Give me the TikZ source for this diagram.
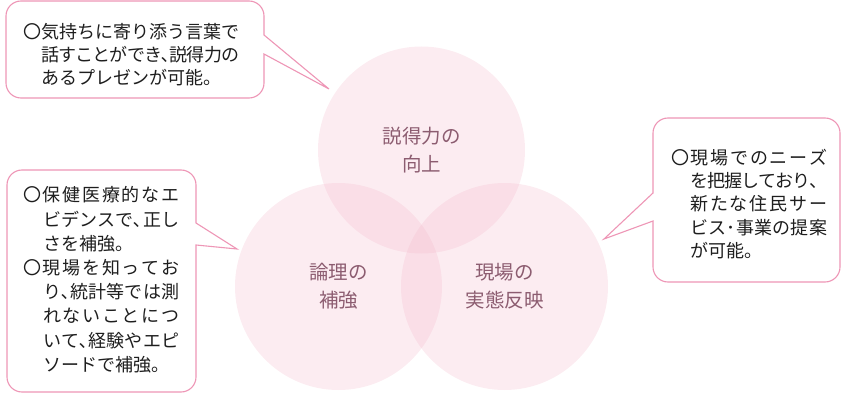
\documentclass[tikz,border=0pt]{standalone}
\usepackage{fontspec}
\setmainfont{Noto Sans CJK JP}
\definecolor{lineC}{RGB}{238,150,182}
\definecolor{circC}{RGB}{243,182,201}
\definecolor{labC}{RGB}{140,92,112}
\definecolor{txtC}{RGB}{30,30,30}
\makeatletter
\newcommand\jst[2]{\makebox[#1][s]{\jst@A#2\relax}}
\def\jst@A#1{#1\jst@B}
\def\jst@B#1{\ifx\relax#1\else\hskip 0pt plus 1fil minus 2pt #1\expandafter\jst@B\fi}
\makeatother
\tikzset{
  bubble/.style={draw=lineC, line width=1.1pt, fill=white},
  circ/.style={circle, minimum size=207pt, inner sep=0pt, fill=circC,
    fill opacity=0.26, text opacity=1, text=labC, align=center,
    font=\fontsize{19.5}{28}\selectfont},
  txtline/.style={anchor=base west, inner sep=0pt, text=txtC,
    font=\fontsize{18}{23}\selectfont}
}
\begin{document}
\begin{tikzpicture}[x=1pt,y=1pt]
\useasboundingbox (0,0) rectangle (844,-393);
% circles
\node[circ] (ctop) at (421.5,-150) {説得力の\\向上};
\node[circ] (cleft) at (338.5,-286.5) {論理の\\補強};
\node[circ] (cright) at (504.5,-286.5) {現場の\\実態反映};
% top-left bubble
\draw[bubble] (21,-1) -- (249,-1) arc[start angle=90,end angle=0,radius=15pt]
  -- (264,-35) -- (329,-89) -- (264,-54) -- (264,-83)
  arc[start angle=0,end angle=-90,radius=15pt] -- (21,-98)
  arc[start angle=270,end angle=180,radius=15pt] -- (6,-16)
  arc[start angle=180,end angle=90,radius=15pt] -- cycle;
% left bubble
\draw[bubble] (22,-170) -- (181,-170) arc[start angle=90,end angle=0,radius=15pt]
  -- (196,-223) -- (237,-249) -- (196,-245) -- (196,-377)
  arc[start angle=0,end angle=-90,radius=15pt] -- (22,-392)
  arc[start angle=270,end angle=180,radius=15pt] -- (7,-185)
  arc[start angle=180,end angle=90,radius=15pt] -- cycle;
% right bubble
\draw[bubble] (668,-118) -- (825,-118) arc[start angle=90,end angle=0,radius=15pt]
  -- (840,-267) arc[start angle=0,end angle=-90,radius=15pt] -- (668,-282)
  arc[start angle=270,end angle=180,radius=15pt] -- (653,-221) -- (604,-239)
  -- (653,-193) -- (653,-133) arc[start angle=180,end angle=90,radius=15pt] -- cycle;
% top-left text
\node[txtline] (t1) at (23,-39) {〇気持ちに寄り添う言葉で};
\node[txtline] (t2) at (41,-62) {\jst{198pt}{話すことができ､説得力の}};
\node[txtline] (t3) at (41,-85) {あるプレゼンが可能。};
% left text
\node[txtline] (l1) at (23,-202) {\jst{156pt}{〇保健医療的なエ}};
\node[txtline] (l2) at (43,-226) {\jst{136pt}{ビデンスで､正し}};
\node[txtline] (l3) at (43,-250) {さを補強。};
\node[txtline] (l4) at (23,-274) {\jst{156pt}{〇現場を知ってお}};
\node[txtline] (l5) at (43,-298) {\jst{136pt}{り､統計等では測}};
\node[txtline] (l6) at (43,-322) {\jst{136pt}{れないことにつ}};
\node[txtline] (l7) at (43,-347) {\jst{136pt}{いて､経験やエピ}};
\node[txtline] (l8) at (43,-371) {ソードで補強。};
% right text
\node[txtline] (r1) at (671,-165) {\jst{156pt}{〇現場でのニーズ}};
\node[txtline] (r2) at (690,-188) {\jst{137pt}{を把握しており、}};
\node[txtline] (r3) at (690,-211) {\jst{137pt}{新たな住民サー}};
\node[txtline] (r4) at (690,-234) {\jst{137pt}{ビス･事業の提案}};
\node[txtline] (r5) at (690,-257) {が可能。};
\end{tikzpicture}
\end{document}
